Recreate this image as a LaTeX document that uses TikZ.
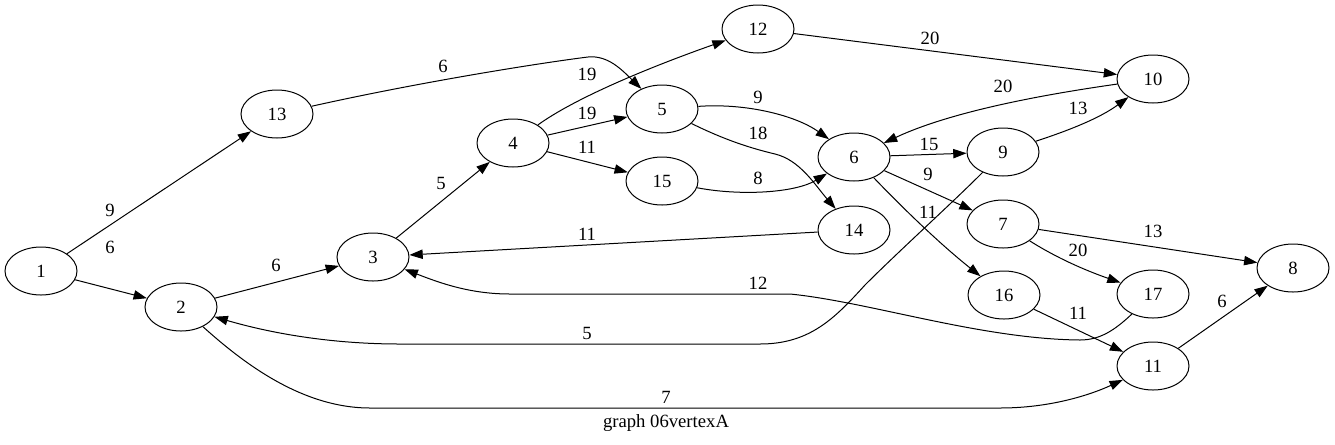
\documentclass[tikz,border=0pt]{standalone}
\usepackage{fontspec}
\setmainfont{Liberation Serif}
\usetikzlibrary{arrows.meta,shapes.geometric}
\begin{document}
\begin{tikzpicture}[x=0.75pt,y=-0.75pt,
  vtx/.style={ellipse,draw,line width=0.75pt,minimum width=54pt,minimum height=36pt,inner sep=0pt,font=\fontsize{14pt}{16pt}\selectfont},
  lbl/.style={inner sep=0pt,font=\fontsize{14pt}{16pt}\selectfont},
  edge/.style={draw,line width=0.75pt,-{Triangle[length=10pt,width=7pt]}}]
\useasboundingbox (0,0) rectangle (1335,444);
\node[vtx] (n1) at (41,271) {1};
\node[vtx] (n2) at (181,307) {2};
\node[vtx] (n3) at (373,257) {3};
\node[vtx] (n4) at (513,143) {4};
\node[vtx] (n5) at (662,109) {5};
\node[vtx] (n6) at (854,157) {6};
\node[vtx] (n7) at (1003,224) {7};
\node[vtx] (n8) at (1293,268) {8};
\node[vtx] (n9) at (1003,152) {9};
\node[vtx] (n10) at (1153,79) {10};
\node[vtx] (n11) at (1153,366) {11};
\node[vtx] (n12) at (758,29) {12};
\node[vtx] (n13) at (277,114) {13};
\node[vtx] (n14) at (854,230) {14};
\node[vtx] (n15) at (662,181) {15};
\node[vtx] (n16) at (1004,295) {16};
\node[vtx] (n17) at (1153,294) {17};
% edges
\path[edge] (n1) -- (n13);
\path[edge] (n1) -- (n2);
\path[edge] (n2) -- (n3);
\path[edge] (n3) -- (n4);
\path[edge] (n13) .. controls (420,82) and (540,63) .. (588,57) .. controls (608,55) and (622,70) .. (n5);
\path[edge] (n4) .. controls (575,98) and (650,67) .. (n12);
\path[edge] (n4) -- (n5);
\path[edge] (n4) -- (n15);
\path[edge] (n5) .. controls (745,103) and (795,115) .. (n6);
\path[edge] (n5) .. controls (725,140) and (750,148) .. (775,154) .. controls (800,160) and (815,185) .. (n14);
\path[edge] (n15) .. controls (740,196) and (795,193) .. (n6);
\path[edge] (n12) -- (n10);
\path[edge] (n10) .. controls (1040,95) and (950,112) .. (n6);
\path[edge] (n6) -- (n9);
\path[edge] (n9) .. controls (1070,130) and (1100,118) .. (n10);
\path[edge] (n6) -- (n7);
\path[edge] (n6) .. controls (895,200) and (935,240) .. (n16);
\path[edge] (n14) -- (n3);
\path[edge] (n9) .. controls (950,205) and (900,250) .. (865,285) .. controls (835,318) and (810,344) .. (760,344) -- (400,344) .. controls (330,344) and (270,333) .. (n2);
\path[edge] (n7) -- (n8);
\path[edge] (n7) .. controls (1060,260) and (1090,272) .. (n17);
\path[edge] (n17) .. controls (1115,330) and (1100,340) .. (1080,340) .. controls (980,339) and (870,302) .. (790,294) -- (510,294) .. controls (470,294) and (440,283) .. (n3);
\path[edge] (n16) -- (n11);
\path[edge] (n11) -- (n8);
\path[edge] (n2) .. controls (240,360) and (300,408) .. (370,408) -- (1000,408) .. controls (1050,408) and (1090,395) .. (n11);
% labels
\node[lbl] (l1) at (110,210) {9};
\node[lbl] (l2) at (110,247) {6};
\node[lbl] (l3) at (276,265) {6};
\node[lbl] (l4) at (441,183) {5};
\node[lbl] (l5) at (443,66) {6};
\node[lbl] (l6) at (587,74) {19};
\node[lbl] (l7) at (587,113) {19};
\node[lbl] (l8) at (587,147) {11};
\node[lbl] (l9) at (758,97) {9};
\node[lbl] (l10) at (758,133) {18};
\node[lbl] (l11) at (758,178) {8};
\node[lbl] (l12) at (930,38) {20};
\node[lbl] (l13) at (1003,86) {20};
\node[lbl] (l14) at (929,144) {15};
\node[lbl] (l15) at (1078,108) {13};
\node[lbl] (l16) at (928,174) {9};
\node[lbl] (l17) at (928,212) {11};
\node[lbl] (l18) at (587,234) {11};
\node[lbl] (l19) at (587,333) {5};
\node[lbl] (l20) at (1153,231) {13};
\node[lbl] (l21) at (1078,250) {20};
\node[lbl] (l22) at (758,283) {12};
\node[lbl] (l23) at (1078,313) {11};
\node[lbl] (l24) at (1222,301) {6};
\node[lbl] (l25) at (666,397) {7};
\node[lbl] (title) at (666,423) {graph 06vertexA};
\end{tikzpicture}
\end{document}
